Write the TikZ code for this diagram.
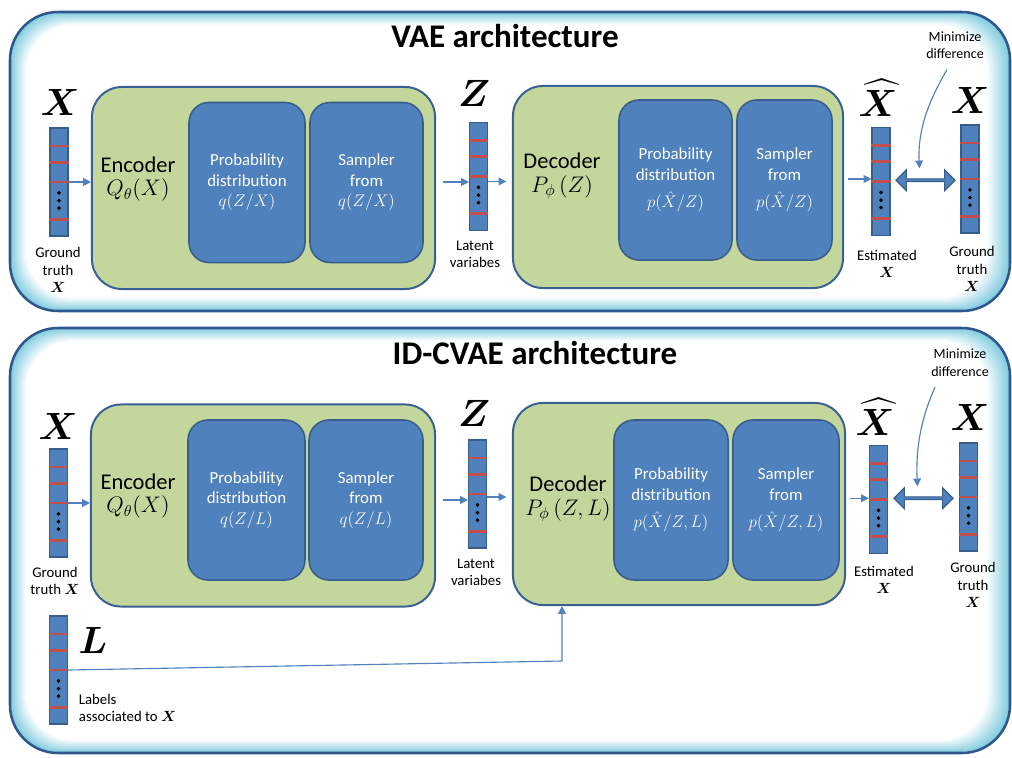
\RequirePackage{fix-cm}
\documentclass[tikz,border=0pt]{standalone}
\usepackage{fontspec}
\setmainfont{Carlito}
\usepackage{amsmath}
\usepackage{bm}
\usetikzlibrary{arrows.meta, positioning, calc, shapes.arrows}
\definecolor{cPanel}{RGB}{47,87,140}
\definecolor{cGlow}{RGB}{95,190,215}
\definecolor{cGreen}{RGB}{195,214,155}
\definecolor{cLine}{RGB}{56,96,146}
\definecolor{cBlue}{RGB}{79,129,189}
\definecolor{cBlueLine}{RGB}{56,93,138}
\definecolor{cRed}{RGB}{192,80,77}
\tikzset{
    title/.style    ={font=\fontsize{23.5}{28}\selectfont\bfseries},
    coder/.style    ={rectangle, rounded corners=0.75cm, draw=cLine, line width=1.4pt, fill=cGreen, minimum height=5.05cm},
    probbox/.style  ={rectangle, rounded corners=0.5cm, draw=cBlueLine, line width=1.1pt, fill=cBlue, minimum height=4cm, text=white, align=center, font=\fontsize{12}{14.6}\selectfont},
    codertext/.style={align=center, font=\fontsize{16}{17}\selectfont},
    vecbar/.style   ={rectangle, draw=cBlueLine, line width=0.8pt, fill=cBlue, minimum width=0.45cm, minimum height=2.7cm, inner sep=0pt},
    biglabel/.style ={font=\fontsize{27}{30}\selectfont, inner sep=0pt},
    caption/.style  ={align=center, font=\fontsize{10.5}{12.5}\selectfont},
    flow/.style     ={-{Triangle[length=5.5pt,width=5.5pt]}, draw=cBlue, line width=0.8pt},
    diffarrow/.style={double arrow, draw=cBlueLine, fill=cBlue, line width=0.8pt, minimum height=1.475cm, minimum width=0.52cm, double arrow head extend=0.09cm, inner sep=0pt},
}
% panel with inner glow: x1 y1 x2 y2
\newcommand{\archpanel}[4]{%
    \foreach \k in {0,...,16}{
        \pgfmathsetmacro\tint{int(80-5*\k)}
        \fill[cGlow!\tint!white, rounded corners=1.2cm] (#1+\k,#2+0.8*\k) rectangle (#3-1.4*\k,#4-0.8*\k);
    }
    \draw[cPanel, line width=1.8pt, rounded corners=1.2cm] (#1,#2) rectangle (#3,#4);
}
% feature vector: name x y
\newcommand{\featvec}[3]{%
    \node[vecbar] (#1) at (#2,#3) {};
    \foreach \f in {0.17,0.32,0.5,0.84}
        \draw[cRed, line width=2pt] ($(#1.north west)!\f!(#1.south west)$) -- ($(#1.north east)!\f!(#1.south east)$);
    \foreach \f in {0.6,0.67,0.74}
        \fill ($(#1.north)!\f!(#1.south)$) circle (1.4pt);
}

\begin{document}
\begin{tikzpicture}[x=0.025cm, y=-0.025cm]
    \useasboundingbox (0,0) rectangle (1012,757);
    \archpanel{10}{12}{1010}{311}
    \archpanel{10}{328}{1010}{753}

    % VAE
    \node[title] (vaeT) at (505,36) {VAE architecture};
    \featvec{xin}{59}{182}
    \node[biglabel] (xinL) at (60,102) {$\bm{X}$};
    \node[caption] (xinC) at (58,270) {Ground\\truth\\$\bm{X}$};
    \node[coder, minimum width=8.575cm] (enc) at (263.5,188) {};
    \node[probbox, minimum width=2.9cm] (qdist) at (247,182.5) {Probability\\distribution\\$q(Z/X)$};
    \node[probbox, minimum width=2.825cm] (qsamp) at (366.5,182.5) {Sampler\\from\\$q(Z/X)$};
    \node[codertext] (encT) at (138,179) {Encoder\\$Q_\theta(X)$};
    \featvec{zv}{478.5}{176.5}
    \node[biglabel] (zvL) at (474,93) {$\bm{Z}$};
    \node[caption] (zvC) at (475,254.5) {Latent\\variabes};
    \node[coder, minimum width=8.25cm] (dec) at (678,187) {};
    \node[probbox, minimum width=2.825cm] (pdist) at (675.5,180) {Probability\\distribution\\[5pt]$p(\hat{X}/Z)$};
    \node[probbox, minimum width=2.375cm] (psamp) at (784.5,180) {Sampler\\from\\[5pt]$p(\hat{X}/Z)$};
    \node[codertext] (decT) at (562,176) {Decoder\\$P_\phi\,(Z)$};
    \featvec{xhat}{881}{181.5}
    \node[biglabel] (xhatL) at (878,98) {$\widehat{\bm{X}}$};
    \node[caption] (xhatC) at (887,264) {Estimated\\$\bm{X}$};
    \featvec{xgt}{970}{179}
    \node[biglabel] (xgtL) at (970,100) {$\bm{X}$};
    \node[caption] (xgtC) at (972,269) {Ground\\truth\\$\bm{X}$};
    \node[diffarrow] (dif) at ($(xhat.east)!0.5!(xgt.west)$) {};
    \node[caption, font=\fontsize{10}{12.5}\selectfont] (mini) at (955,45) {Minimize\\difference};
    \draw[flow] (xin.east) -- (xin.east -| enc.west);
    \draw[flow, shorten <=5pt] (enc.east |- xin) -- (zv.west |- xin);
    \draw[flow, shorten >=4pt] (zv.east |- xhat) -- (dec.west |- xhat);
    \draw[flow, shorten <=3pt] (dec.east |- xgt) -- (xhat.west |- xgt);
    \draw[flow] ($(mini.south)+(-8,6)$) .. controls ($(mini.south)+(-25,35)$) and ($(dif.north)+(-8,-50)$) .. ($(dif.north)+(-6,-10)$);

    % ID-CVAE
    \node[title] (cvaeT) at (535,353) {ID-CVAE architecture};
    \featvec{xin2}{58.5}{503}
    \node[biglabel] (xin2L) at (58,426) {$\bm{X}$};
    \node[caption] (xin2C) at (55,581) {Ground\\truth $\bm{X}$};
    \node[coder, minimum width=8.6cm] (enc2) at (263,505.5) {};
    \node[probbox, minimum width=2.925cm] (qdist2) at (246.5,500) {Probability\\distribution\\$q(Z/L)$};
    \node[probbox, minimum width=2.85cm] (qsamp2) at (366,500) {Sampler\\from\\$q(Z/L)$};
    \node[codertext] (encT2) at (138,496) {Encoder\\$Q_\theta(X)$};
    \featvec{zv2}{477.5}{494}
    \node[biglabel] (zv2L) at (474,413) {$\bm{Z}$};
    \node[caption] (zv2C) at (476,572.5) {Latent\\variabes};
    \node[coder, minimum width=8.3cm] (dec2) at (679,504) {};
    \node[probbox, minimum width=2.85cm] (pdist2) at (671,500) {Probability\\distribution\\[5pt]$p(\hat{X}/Z,L)$};
    \node[probbox, minimum width=2.65cm] (psamp2) at (786,500) {Sampler\\from\\[5pt]$p(\hat{X}/Z,L)$};
    \node[codertext] (decT2) at (568,499) {Decoder\\$P_\phi\,(Z,L)$};
    \featvec{xhat2}{878.5}{499.5}
    \node[biglabel] (xhat2L) at (875,417) {$\widehat{\bm{X}}$};
    \node[caption] (xhat2C) at (884,580) {Estimated\\$\bm{X}$};
    \featvec{xgt2}{968.5}{497}
    \node[biglabel] (xgt2L) at (970,417) {$\bm{X}$};
    \node[caption] (xgt2C) at (973,585) {Ground\\truth\\$\bm{X}$};
    \node[diffarrow] (dif2) at ($(xhat2.east)!0.5!(xgt2.west)$) {};
    \node[caption, font=\fontsize{10}{12.5}\selectfont] (mini2) at (960,362.5) {Minimize\\difference};
    \featvec{lv}{58.5}{670}
    \node[biglabel] (lvL) at (93,640) {$\bm{L}$};
    \node[caption, anchor=west, align=left] (lvC) at (74,708) {Labels\\associated to $\bm{X}$};
    \coordinate (lbend) at (562,661);
    \draw[flow] (xin2.east) -- (xin2.east -| enc2.west);
    \draw[flow, shorten <=5pt] (enc2.east |- qdist2) -- (zv2.west |- qdist2);
    \draw[flow, shorten >=4pt] (zv2.east |- xgt2) -- (dec2.west |- xgt2);
    \draw[flow, shorten <=3pt] (dec2.east |- dif2) -- (xhat2.west |- dif2);
    \draw[flow] ($(mini2.south)+(-25,6)$) .. controls ($(mini2.south)+(-38,35)$) and ($(dif2.north)+(-8,-50)$) .. ($(dif2.north)+(-6,-10)$);
    \draw[flow] (lv.east) -- (lbend) -- (lbend |- dec2.south);
\end{tikzpicture}
\end{document}
